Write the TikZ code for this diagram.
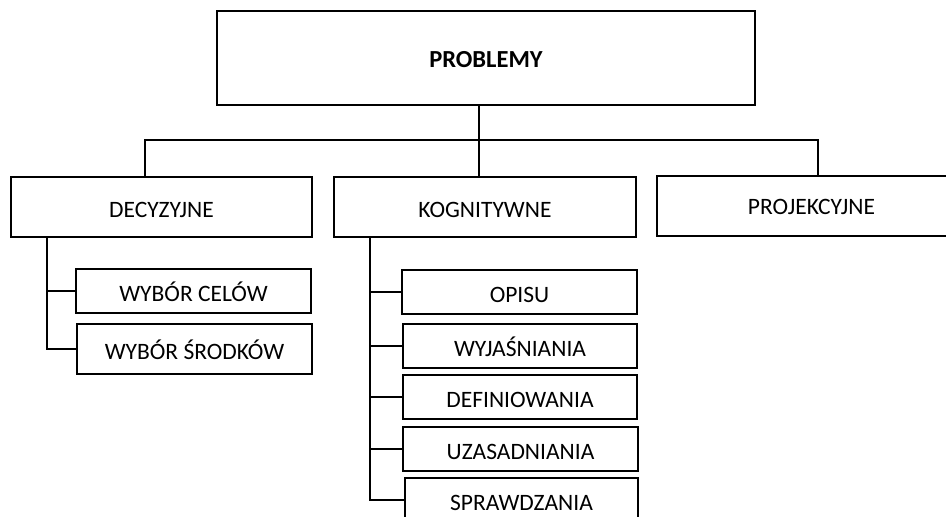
\documentclass[tikz,border=0pt]{standalone}
\usepackage{fontspec}
\setmainfont{Carlito}
\begin{document}
\begin{tikzpicture}[x=1pt,y=-1pt,
  box/.style={draw,line width=2pt,inner sep=0pt,rectangle,
    text height=20pt,text depth=0pt,font=\fontsize{23.5}{26}\selectfont},
  conn/.style={line width=2pt}]
\useasboundingbox (0,0) rectangle (946,517);
\clip (0,0) rectangle (946,517);
\node[box,minimum width=538pt,minimum height=94pt,text height=18pt,font=\fontsize{24.5}{26}\selectfont\bfseries] (top) at (486,58) {PROBLEMY};
\node[box,minimum width=301pt,minimum height=60pt] (dec) at (161.5,207) {DECYZYJNE};
\node[box,minimum width=302pt,minimum height=60pt] (kog) at (485,207) {KOGNITYWNE};
\node[box,minimum width=309pt,minimum height=60pt,text height=17pt] (proj) at (811.5,206) {PROJEKCYJNE};
\node[box,minimum width=235pt,minimum height=44pt] (cel) at (193.5,291) {WYBÓR CELÓW};
\node[box,minimum width=235pt,minimum height=50pt] (srod) at (194.5,349) {WYBÓR ŚRODKÓW};
\node[box,minimum width=235pt,minimum height=44pt] (opis) at (519.5,292) {OPISU};
\node[box,minimum width=234pt,minimum height=44pt] (wyj) at (520,346) {WYJAŚNIANIA};
\node[box,minimum width=234pt,minimum height=44pt] (def) at (520,397) {DEFINIOWANIA};
\node[box,minimum width=235pt,minimum height=44pt] (uza) at (520.5,449) {UZASADNIANIA};
\node[box,minimum width=233pt,minimum height=44pt] (spr) at (521.5,500) {SPRAWDZANIA};
% top level connectors
\coordinate (tj) at (479,140);
\coordinate (dx) at (145,140);
\coordinate (px) at (818,140);
\draw[conn] (tj |- top.south) -- (tj |- kog.north);
\draw[conn] (dx |- dec.north) -- (dx) -- (px) -- (px |- proj.north);
% decyzyjne branch
\coordinate (dv) at (47,0);
\draw[conn] (dv |- dec.south) |- (srod.west);
\draw[conn] (dv |- cel.west) -- (cel.west);
% kognitywne branch
\coordinate (kv) at (370,0);
\draw[conn] (kv |- kog.south) |- (spr.west);
\draw[conn] (kv |- opis.west) -- (opis.west);
\draw[conn] (kv |- wyj.west) -- (wyj.west);
\draw[conn] (kv |- def.west) -- (def.west);
\draw[conn] (kv |- uza.west) -- (uza.west);
\end{tikzpicture}
\end{document}
